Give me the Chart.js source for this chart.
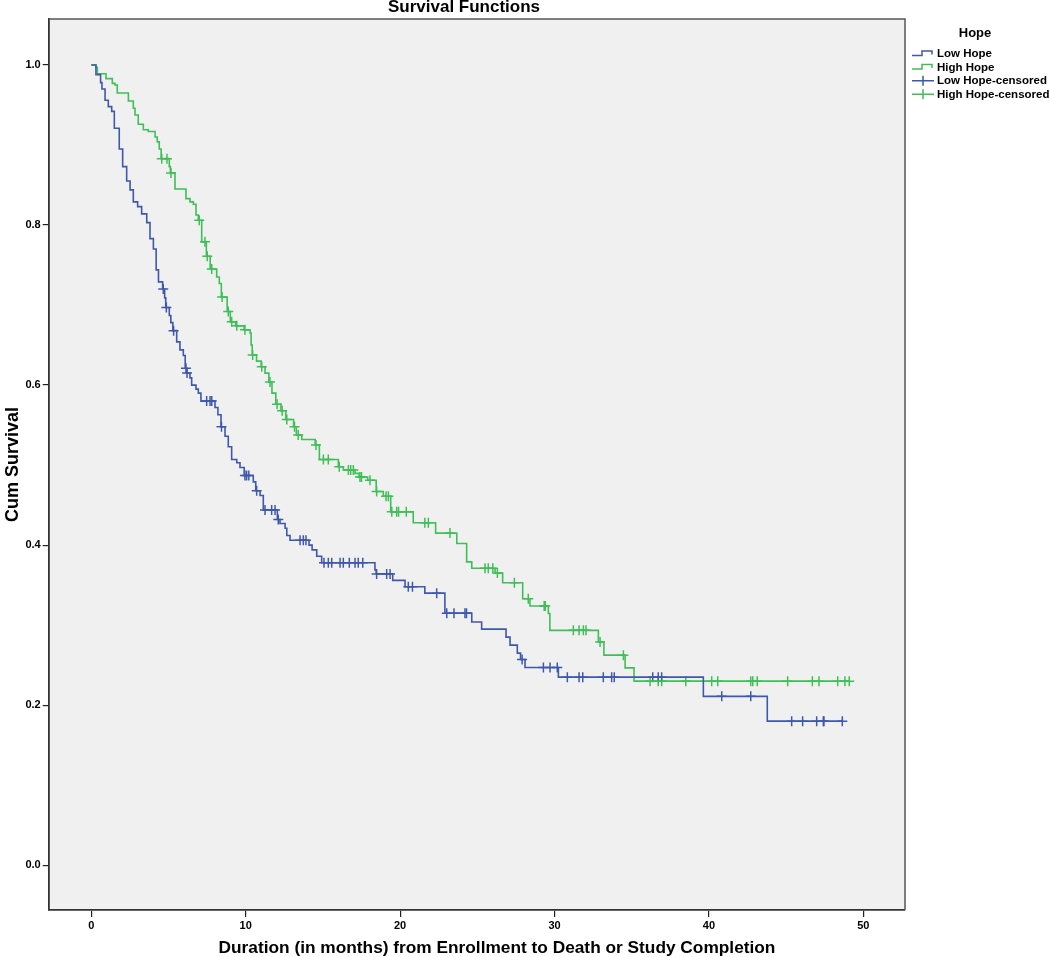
<!doctype html>
<html lang="en">
<head>
    <meta charset="utf-8">
    <title>Survival Functions</title>
    <script src="https://cdn.jsdelivr.net/npm/chart.js"></script>
    <style>
        body { margin: 0; background: #fff; }
    </style>
</head>
<body>
    <canvas id="chartEl" width="1050" height="957"></canvas>
    <script>
        // group names
        const groupLabels = ['Low Hope', 'High Hope'];

        // Low Hope: event times (months) and survival after each drop
        const lowTimes = [0, 0.30, 0.60, 0.69, 0.89, 1.10, 1.32, 1.49, 1.81, 2.03, 2.29, 2.51, 2.72, 3.00, 3.26,
            3.59, 3.80, 4.02, 4.20, 4.35, 4.62, 4.75, 4.82, 5.05, 5.15, 5.28, 5.53, 5.74, 5.96, 6.08, 6.18,
            6.39, 6.50, 6.78, 6.93, 7.10, 8.01, 8.20, 8.40, 8.66, 8.87, 9.09, 9.42, 9.63, 9.90, 10.49, 10.65,
            10.93, 11.14, 12.05, 12.22, 12.55, 12.66, 12.87, 14.10, 14.30, 14.60, 14.92, 18.37, 18.45, 19.52,
            20.32, 21.60, 22.90, 24.64, 25.28, 26.86, 27.12, 27.59, 27.80, 28.09, 30.25, 39.64, 43.78];
        const lowSurv = [1.0, 0.988, 0.978, 0.970, 0.956, 0.948, 0.942, 0.921, 0.895, 0.873, 0.855, 0.844, 0.829, 0.823, 0.814,
            0.803, 0.783, 0.770, 0.744, 0.729, 0.720, 0.709, 0.697, 0.687, 0.678, 0.668, 0.654, 0.644, 0.637, 0.621, 0.615,
            0.609, 0.600, 0.595, 0.590, 0.580, 0.572, 0.563, 0.548, 0.536, 0.523, 0.507, 0.503, 0.497, 0.487, 0.479, 0.468,
            0.462, 0.444, 0.432, 0.427, 0.421, 0.412, 0.406, 0.400, 0.394, 0.386, 0.378, 0.369, 0.364, 0.356,
            0.348, 0.340, 0.315, 0.304, 0.295, 0.285, 0.275, 0.265, 0.257, 0.247, 0.235, 0.211, 0.180];
        const lowCensor = [4.66, 4.86, 5.33, 6.13, 6.20, 7.47, 7.69, 7.80, 8.43, 9.95, 10.06, 10.20, 10.71, 11.25,
            11.68, 11.90, 12.11, 13.52, 13.73, 13.90, 15.07, 15.35, 15.57, 16.11, 16.32, 16.71, 17.08, 17.29, 17.58,
            18.48, 19.13, 19.35, 20.53, 20.80, 22.37, 23.02, 23.49, 24.20, 24.30, 27.90, 29.28, 29.71, 30.18, 30.83,
            31.59, 31.83, 33.16, 33.70, 33.87, 36.36, 36.72, 36.94, 40.83, 42.71, 45.36, 46.07, 46.98, 47.41, 47.45, 48.64];

        // High Hope
        const highTimes = [0, 0.30, 0.39, 0.95, 1.36, 1.53, 1.68, 2.40, 2.72, 2.83, 3.04, 3.37, 3.69, 4.13, 4.27,
            4.40, 4.52, 5.05, 5.12, 5.42, 6.13, 6.39, 6.61, 6.78, 6.93, 7.15, 7.45, 7.70, 8.12, 8.29, 8.42, 8.80,
            9.00, 9.35, 9.90, 10.28, 10.35, 10.42, 10.70, 11.00, 11.25, 11.50, 11.70, 11.95, 12.28, 12.60, 13.10,
            13.28, 13.63, 14.50, 14.77, 16.00, 16.32, 17.08, 17.35, 17.90, 18.45, 18.91, 19.39, 20.85, 22.30,
            23.67, 24.31, 24.64, 26.15, 26.64, 27.94, 28.41, 29.60, 29.70, 32.84, 33.20, 34.57, 35.15];
        const highSurv = [1.0, 0.997, 0.989, 0.983, 0.977, 0.975, 0.965, 0.955, 0.946, 0.9375, 0.926, 0.919, 0.917, 0.910, 0.904,
            0.895, 0.883, 0.873, 0.865, 0.845, 0.833, 0.829, 0.826, 0.8125, 0.806, 0.779, 0.761, 0.745, 0.735, 0.727, 0.710, 0.692,
            0.679, 0.674, 0.669, 0.665, 0.650, 0.6375, 0.630, 0.623, 0.615, 0.604, 0.590, 0.576, 0.568, 0.557, 0.548,
            0.5375, 0.532, 0.525, 0.507, 0.498, 0.494, 0.4896, 0.485, 0.481, 0.467, 0.461, 0.4416, 0.428, 0.415,
            0.402, 0.379, 0.371, 0.365, 0.353, 0.333, 0.324, 0.3146, 0.2935, 0.279, 0.2625, 0.2466, 0.230];
        const highCensor = [4.56, 4.90, 5.16, 6.99, 7.36, 7.51, 7.80, 8.47, 8.87, 9.09, 9.42, 9.95, 10.45, 11.04,
            11.57, 12.03, 12.36, 12.66, 13.16, 13.40, 14.55, 15.03, 15.35, 16.06, 16.65, 16.80, 16.97, 17.40, 17.50,
            18.05, 18.48, 19.09, 19.24, 19.46, 19.78, 19.90, 20.40, 21.60, 21.83, 23.23, 25.50, 25.71, 26.00, 26.30,
            27.40, 28.30, 29.33, 29.40, 31.22, 31.59, 31.87, 32.04, 32.95, 34.46, 36.19, 36.72, 36.94, 38.50, 40.18,
            40.57, 42.71, 42.84, 43.13, 45.10, 46.70, 47.13, 48.34, 48.81, 49.09];

        const xTicks = [0, 10, 20, 30, 40, 50];
        const yTicks = [0, 0.2, 0.4, 0.6, 0.8, 1.0];

        const blue = '#3e58ac';
        const green = '#3ebf57';
        const fontFamily = "'Liberation Sans', Arial, sans-serif";

        // survival value of a step curve at time t
        const survAt = (times, surv, t) => {
            let s = surv[0];
            times.forEach((ti, i) => {
                if (ti <= t) s = surv[i];
            });
            return s;
        };

        const stepData = (times, surv, censor) => {
            const pts = times.map((t, i) => ({ x: t, y: surv[i] }));
            const last = censor[censor.length - 1];
            if (last > times[times.length - 1]) pts.push({ x: last, y: surv[surv.length - 1] });
            return pts;
        };

        const censorData = (times, surv, censor) => {
            return censor.map((t) => ({ x: t, y: survAt(times, surv, t) }));
        };

        const lineDs = (label, data, color) => ({
            label,
            data,
            borderColor: color,
            backgroundColor: color,
            borderWidth: 1.6,
            stepped: true,
            pointRadius: 0,
            fill: false,
        });

        const censorDs = (label, data, color) => ({
            label,
            data,
            showLine: false,
            borderColor: color,
            backgroundColor: color,
            pointStyle: 'cross',
            pointRadius: 5,
            pointBorderWidth: 1.5,
            pointHoverRadius: 5,
        });

        // background, frame, title, x title and the SPSS-like legend
        const decorPlugin = {
            id: 'decor',
            beforeDraw(chart) {
                const { ctx, chartArea: a } = chart;
                ctx.save();
                ctx.fillStyle = '#f0f0f0';
                ctx.fillRect(a.left, a.top, a.right - a.left, a.bottom - a.top);
                ctx.restore();
            },
            afterDraw(chart) {
                const { ctx, chartArea: a } = chart;
                ctx.save();
                ctx.strokeStyle = '#555';
                ctx.lineWidth = 1.5;
                ctx.beginPath();
                ctx.moveTo(a.left, a.top);
                ctx.lineTo(a.right, a.top);
                ctx.lineTo(a.right, a.bottom);
                ctx.stroke();

                ctx.fillStyle = '#000';
                ctx.textAlign = 'center';
                ctx.textBaseline = 'middle';
                ctx.font = `bold 17px ${fontFamily}`;
                ctx.fillText('Survival Functions', 464, 7);
                ctx.font = `bold 17.3px ${fontFamily}`;
                ctx.fillText('Duration (in months) from Enrollment to Death or Study Completion', 497, 948);

                // legend
                ctx.font = `bold 13px ${fontFamily}`;
                ctx.fillText('Hope', 975, 33);
                const items = [
                    { text: groupLabels[0], color: blue, kind: 'step' },
                    { text: groupLabels[1], color: green, kind: 'step' },
                    { text: groupLabels[0] + '-censored', color: blue, kind: 'cross' },
                    { text: groupLabels[1] + '-censored', color: green, kind: 'cross' },
                ];
                ctx.font = `bold 11.5px ${fontFamily}`;
                ctx.textAlign = 'left';
                items.forEach((it, i) => {
                    const y = 53.5 + i * 13.6;
                    ctx.strokeStyle = it.color;
                    ctx.lineWidth = 1.5;
                    ctx.beginPath();
                    if (it.kind === 'step') {
                        ctx.moveTo(912, y + 2);
                        ctx.lineTo(922, y + 2);
                        ctx.lineTo(922, y - 2.5);
                        ctx.lineTo(932, y - 2.5);
                        ctx.lineTo(932, y + 1);
                    } else {
                        ctx.moveTo(912, y);
                        ctx.lineTo(934, y);
                        ctx.moveTo(923, y - 5);
                        ctx.lineTo(923, y + 5);
                    }
                    ctx.stroke();
                    ctx.fillStyle = '#000';
                    ctx.fillText(it.text, 937, y + 0.5);
                });
                ctx.restore();
            },
        };

        const tickFont = { family: fontFamily, size: 11, weight: 'bold' };

        const config = {
            type: 'line',
            data: {
                datasets: [
                    lineDs(groupLabels[0], stepData(lowTimes, lowSurv, lowCensor), blue),
                    lineDs(groupLabels[1], stepData(highTimes, highSurv, highCensor), green),
                    censorDs(groupLabels[0] + '-censored', censorData(lowTimes, lowSurv, lowCensor), blue),
                    censorDs(groupLabels[1] + '-censored', censorData(highTimes, highSurv, highCensor), green),
                ],
            },
            options: {
                responsive: false,
                animation: false,
                devicePixelRatio: 1,
                layout: { padding: { top: 19, right: 145, left: 0, bottom: 0 } },
                plugins: {
                    legend: { display: false },
                    title: { display: false },
                    tooltip: { enabled: false },
                },
                scales: {
                    x: {
                        type: 'linear',
                        min: -2.76,
                        max: 52.7,
                        afterBuildTicks: (scale) => {
                            scale.ticks = xTicks.map((v) => ({ value: v }));
                        },
                        afterFit: (scale) => {
                            scale.height = 47;
                        },
                        ticks: {
                            color: '#000',
                            font: tickFont,
                            padding: 2,
                            maxRotation: 0,
                            callback: (v) => String(v),
                        },
                        grid: {
                            drawOnChartArea: false,
                            drawTicks: true,
                            tickLength: 7,
                            color: '#222',
                            lineWidth: 1.2,
                        },
                        border: { display: true, color: '#333', width: 1.8 },
                        title: { display: false },
                    },
                    y: {
                        type: 'linear',
                        min: -0.056,
                        max: 1.0575,
                        afterBuildTicks: (scale) => {
                            scale.ticks = yTicks.map((v) => ({ value: v }));
                        },
                        afterFit: (scale) => {
                            scale.width = 48.7;
                        },
                        ticks: {
                            color: '#000',
                            font: tickFont,
                            padding: 2,
                            callback: (v) => v.toFixed(1),
                        },
                        grid: {
                            drawOnChartArea: false,
                            drawTicks: true,
                            tickLength: 6,
                            color: '#222',
                            lineWidth: 1.2,
                        },
                        border: { display: true, color: '#333', width: 1.8 },
                        title: {
                            display: true,
                            text: 'Cum Survival',
                            color: '#000',
                            font: { family: fontFamily, size: 18, weight: 'bold' },
                            padding: { top: 2, bottom: 0 },
                        },
                    },
                },
            },
            plugins: [decorPlugin],
        };

        new Chart(document.getElementById('chartEl'), config);
    </script>
</body>
</html>
